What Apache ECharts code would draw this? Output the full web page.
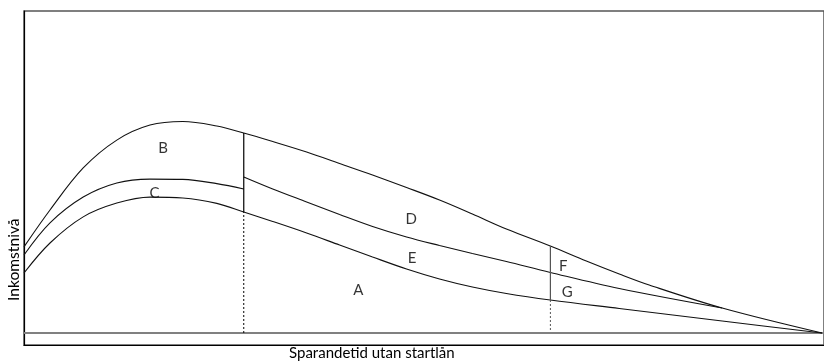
<!DOCTYPE html>
<html>
<head>
<meta charset="utf-8">
<style>
html,body{margin:0;padding:0;background:#fff;}
#c{width:824px;height:363px;}
</style>
<script src="https://cdn.jsdelivr.net/npm/echarts@6/dist/echarts.min.js"></script>
</head>
<body>
<div id="c"></div>
<script>
// Top curve (upper income path)
const topCurve = [[0,28.7],[3.25,41],[7.4,55],[11.6,64.3],[15.75,69.3],[19.85,70.5],[24.1,69],[27.47,66.67],[31.09,63.83],[35.33,60.33],[39.45,56.5],[43.57,52.67],[47.82,48.5],[51.94,44.33],[56.05,39.67],[60.3,34.67],[65.79,29],[70.29,24],[74.41,19.67],[78.15,16],[87.27,8.33],[99.75,0]];
// Middle curve, before and after the jump
const midLeft = [[0,26],[3.25,36.7],[7.4,45.3],[11.6,50],[15.75,51.3],[19.85,51.2],[24.1,49.8],[27.47,48]];
const midRight = [[27.47,52],[31.09,48],[35.33,43.67],[39.45,39.5],[43.57,35.5],[47.82,32],[51.94,29.17],[56.05,26.5],[60.3,23.83],[65.79,20.17],[74.41,14.83],[87.27,8.33]];
// Lower curve
const lowCurve = [[0,20],[3.25,30],[7.4,38.7],[11.6,43.3],[15.75,45.3],[19.85,45],[24.1,43.2],[27.47,40.33],[31.09,37.17],[35.33,33.33],[39.45,29.33],[43.57,25.33],[47.82,21.33],[51.94,18],[56.05,15.33],[60.3,13.17],[65.79,11],[74.41,8.17],[87.27,4],[99.75,0]];
// Vertical markers
const vert1Solid = [[27.47,40.33],[27.47,66.67]];
const vert1Dotted = [[27.47,0],[27.47,40.33]];
const vert2Solid = [[65.8,11],[65.8,29]];
const vert2Dotted = [[65.8,1],[65.8,11]];
const baseline = [[0,0],[100,0]];
// Area labels
const areaLabels = [
  {name:'B', value:[17.4,61.7]},
  {name:'C', value:[16.3,46.7]},
  {name:'D', value:[48.4,38]},
  {name:'E', value:[48.5,25]},
  {name:'A', value:[41.8,14.3]},
  {name:'F', value:[67.4,22.3]},
  {name:'G', value:[67.9,13.7]}
];
const xTitle = 'Sparandetid utan startlån';
const yTitle = 'Inkomstnivå';

const FONT = 'Lato, "Open Sans", sans-serif';
const chart = echarts.init(document.getElementById('c'), null, {renderer:'canvas'});

function lineSeries(data, color, width){
  return {type:'line', data:data, smooth:0.35, symbol:'none', silent:true,
    lineStyle:{color:color, width:width}, z:3};
}

chart.setOption({
  animation:false,
  backgroundColor:'#fff',
  grid:{left:24, top:11, width:801, bottom:18, show:true, borderColor:'#555', borderWidth:1.5, backgroundColor:'transparent'},
  xAxis:{type:'value', min:0, max:100,
    axisLine:{show:true, onZero:false, lineStyle:{color:'#000', width:1.2}},
    axisTick:{show:false}, axisLabel:{show:false}, splitLine:{show:false}},
  yAxis:{type:'value', min:-4, max:107.33,
    axisLine:{show:true, onZero:false, lineStyle:{color:'#000', width:1.2}},
    axisTick:{show:false}, axisLabel:{show:false}, splitLine:{show:false}},
  series:[
    lineSeries(baseline, '#808080', 2),
    lineSeries(topCurve, '#111', 1.1),
    lineSeries(midLeft, '#111', 1.1),
    lineSeries(midRight, '#111', 1.1),
    lineSeries(lowCurve, '#111', 1.1),
    {type:'line', data:vert1Solid, symbol:'none', silent:true, lineStyle:{color:'#000', width:1.2}},
    {type:'line', data:vert1Dotted, symbol:'none', silent:true, lineStyle:{color:'#000', width:1, type:[2,2]}},
    {type:'line', data:vert2Solid, symbol:'none', silent:true, lineStyle:{color:'#555', width:1.2}},
    {type:'line', data:vert2Dotted, symbol:'none', silent:true, lineStyle:{color:'#555', width:1, type:[2,2]}},
    {type:'scatter', data:areaLabels, symbolSize:0, silent:true,
      label:{show:true, position:'inside', formatter:'{b}', color:'#000', fontSize:15, fontFamily:FONT}}
  ],
  graphic:[
    {type:'text', left:289, top:346, style:{text:xTitle, fill:'#000', font:'15px ' + FONT}},
    {type:'text', x:6, y:301, rotation:Math.PI/2, style:{text:yTitle, fill:'#000', font:'15.6px ' + FONT}}
  ]
});
</script>
</body>
</html>
